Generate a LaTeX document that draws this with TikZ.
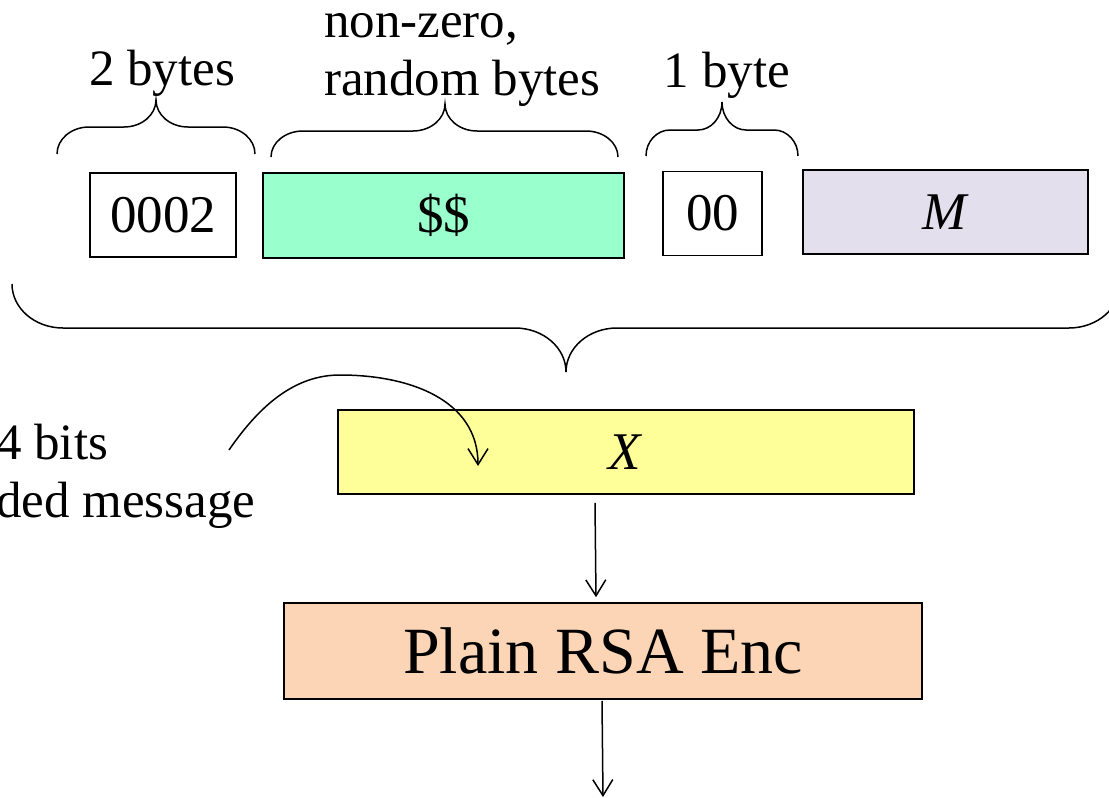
\documentclass[tikz,border=0pt]{standalone}
\usepackage{fontspec}
\setmainfont{Liberation Serif}
\usetikzlibrary{arrows.meta}
\begin{document}
\begin{tikzpicture}[x=1pt,y=-1pt,
  box/.style={draw=black,line width=1.6pt,inner sep=0pt,font=\fontsize{53}{60}\selectfont},
  lbl/.style={inner sep=0pt,font=\fontsize{51}{58}\selectfont},
  brc/.style={line width=1.5pt},
  arr/.style={line width=1.5pt,-{Straight Barb[length=16pt,width=20pt]}}]
\useasboundingbox (0,0) rectangle (1109,798);
\definecolor{cgreen}{RGB}{153,255,204}
\definecolor{clav}{RGB}{228,223,236}
\definecolor{cyel}{RGB}{255,255,153}
\definecolor{cpeach}{RGB}{251,213,181}

% boxes
\node[box,minimum width=146pt,minimum height=84pt] (b0002) at (163,215) {0002};
\node[box,fill=cgreen,minimum width=361pt,minimum height=85pt] (bS) at (443.5,215.5) {\$\$};
\node[box,minimum width=99pt,minimum height=84pt] (b00) at (712.5,213.5) {00};
\node[box,fill=clav,minimum width=285pt,minimum height=84pt] (bM) at (945.5,212) {\textit{M}};
\node[box,fill=cyel,minimum width=576pt,minimum height=84pt] (bX) at (626,452) {\textit{X}};
\node[box,fill=cpeach,minimum width=638pt,minimum height=96pt,font=\fontsize{66}{72}\selectfont] (bRSA) at (603,651) {Plain RSA Enc};

% labels
\node[lbl,anchor=base] (l2) at (162,85) {2 bytes};
\node[lbl,anchor=base west,align=left] (lnz) at (324,95) {non-zero,\\random bytes};
\node[lbl,anchor=base] (l1) at (727,87) {1 byte};
\node[lbl,anchor=base west,align=left] (lpad) at (-4,517) {4 bits\\ded message};

% small braces
\draw[brc] (57,154) .. controls (57,139.1) and (71.3,127) .. (89,127) -- (124,127)
  .. controls (141.7,127) and (156,114.9) .. (156,100)
  .. controls (156,114.9) and (170.3,127) .. (188,127) -- (223,127)
  .. controls (240.7,127) and (255,139.1) .. (255,154);
\draw[brc] (271,157) .. controls (271,142.6) and (285.3,131) .. (303,131) -- (413,131)
  .. controls (430.7,131) and (445,118.9) .. (445,104)
  .. controls (445,118.9) and (459.3,131) .. (477,131) -- (586,131)
  .. controls (603.7,131) and (618,142.6) .. (618,157);
\draw[brc] (646,156) .. controls (646,141.6) and (656.8,130) .. (670,130) -- (698,130)
  .. controls (711.2,130) and (722,117.5) .. (722,102)
  .. controls (722,117.5) and (732.8,130) .. (746,130) -- (774,130)
  .. controls (787.2,130) and (798,141.6) .. (798,156);
% big brace
\draw[brc] (12,284) .. controls (12,308.3) and (34.8,328) .. (63,328) -- (515,328)
  .. controls (543.2,328) and (566,347.7) .. (566,372)
  .. controls (566,347.7) and (588.8,328) .. (617,328) -- (1069,328)
  .. controls (1097.2,328) and (1120,308.3) .. (1120,284);

% curved arrow
\coordinate (cs) at (229,450);
\coordinate (cm) at (340,375);
\coordinate (ce) at (478,466);
\draw[arr] (cs) .. controls (260,405) and (295,375) .. (cm)
  .. controls (410,375) and (478,400) .. (ce);

% straight arrows
\coordinate (out) at (603,797);
\draw[arr] ([shift={(-31,8)}]bX.south) -- ([shift={(-7,-5)}]bRSA.north);
\draw[arr] ([shift={(-1,1)}]bRSA.south) -- (out);
\end{tikzpicture}
\end{document}
